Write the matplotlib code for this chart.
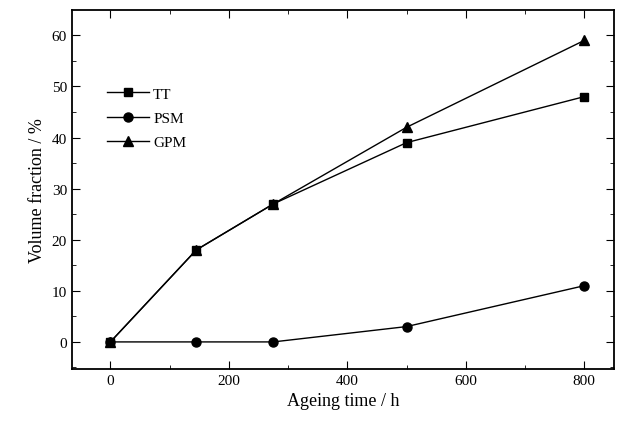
import matplotlib
matplotlib.use("Agg")
import matplotlib.pyplot as plt
from matplotlib.ticker import MultipleLocator

plt.rcParams['font.family'] = ['Liberation Serif', 'DejaVu Serif']

time_h = [0, 145, 275, 500, 800]
tt = [0, 18, 27, 39, 48]
psm = [0, 0, 0, 3, 11]
gpm = [0, 18, 27, 42, 59]

fig = plt.figure(figsize=(6.2, 4.27), dpi=100)
ax = fig.add_axes([0.116, 0.1335, 0.874, 0.84])

ax.plot(time_h, tt, '-s', color='black', lw=1, ms=5.5, label='TT')
ax.plot(time_h, psm, '-o', color='black', lw=1, ms=6.5, label='PSM')
ax.plot(time_h, gpm, '-^', color='black', lw=1, ms=6.5, label='GPM')

ax.set_xlim(-65, 850)
ax.set_ylim(-5.3, 64.9)
ax.xaxis.set_major_locator(MultipleLocator(200))
ax.xaxis.set_minor_locator(MultipleLocator(100))
ax.yaxis.set_major_locator(MultipleLocator(10))
ax.yaxis.set_minor_locator(MultipleLocator(5))
ax.tick_params(which='both', direction='in', top=True, right=True, labelsize=11)
ax.tick_params(which='major', length=6)
ax.tick_params(which='minor', length=3)
for s in ax.spines.values():
    s.set_linewidth(1.3)

ax.set_xlabel('Ageing time / h', fontsize=13)
ax.set_ylabel('Volume fraction / %', fontsize=13)

ax.legend(loc='upper left', bbox_to_anchor=(0.04, 0.825), frameon=False,
          fontsize=11, handlelength=2.7, labelspacing=0.7, handletextpad=0.3)

fig.savefig('out.png', dpi=100)
